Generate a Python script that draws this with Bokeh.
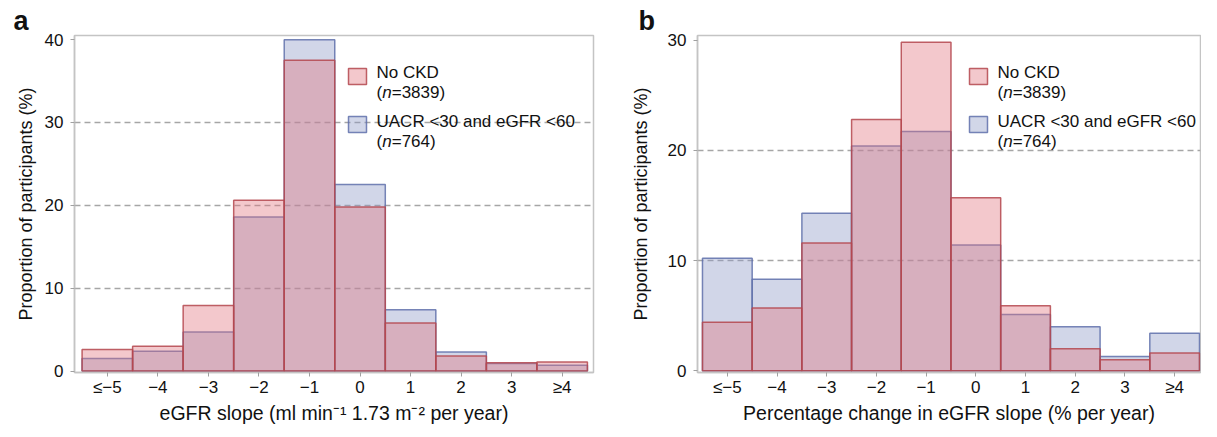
from bokeh.plotting import figure
from bokeh.models import FixedTicker, Label, BoxAnnotation, Range1d, ColumnDataSource
from bokeh.layouts import row
from bokeh.embed import file_html
from bokeh.resources import INLINE

# ---- data ----
categories = ["≤−5", "−4", "−3", "−2", "−1", "0", "1", "2", "3", "≥4"]
a_no_ckd = [2.6, 3.0, 7.9, 20.6, 37.5, 19.8, 5.8, 1.8, 1.0, 1.1]
a_uacr = [1.5, 2.4, 4.7, 18.6, 40.0, 22.5, 7.4, 2.3, 0.9, 0.7]
b_no_ckd = [4.4, 5.7, 11.6, 22.8, 29.8, 15.7, 5.9, 2.0, 1.0, 1.6]
b_uacr = [10.2, 8.3, 14.3, 20.4, 21.7, 11.4, 5.1, 4.0, 1.3, 3.4]
a_yticks = [0, 10, 20, 30, 40]
b_yticks = [0, 10, 20, 30]
a_grid = [10, 20, 30]
b_grid = [10, 20]
legend_names = ["No CKD", "UACR <30 and eGFR <60"]
legend_n = ["=3839)", "=764)"]

FONT = "Liberation Sans"
RED = "#e17680"
RED_EDGE = "#b4464e"
BLUE = "#8c98c5"
BLUE_EDGE = "#5f70aa"
FRAME = "#c4c4c4"
FT = 35          # frame top inside the figure
FH = 337         # frame height
FB = 421 - FT - FH


def sy(page_y):
    return FH - (page_y - FT)


def panel(no_ckd, uacr, yr, yticks, grid, xlabel, letter, xr, fw, mbl, mbr, ystand,
          letter_off, leg_x):
    p = figure(width=mbl + fw + mbr, height=FT + FH + FB, frame_width=fw, frame_height=FH,
               min_border_left=mbl, min_border_right=mbr, min_border_top=FT, min_border_bottom=FB,
               x_range=Range1d(*xr), y_range=Range1d(*yr), title=letter,
               output_backend="svg", toolbar_location=None, tools="")
    p.title.align = "left"
    p.title.offset = letter_off
    p.title.standoff = 0
    p.title.text_font = FONT
    p.title.text_font_size = "27px"
    p.title.text_font_style = "bold"
    p.title.text_color = "#111111"

    src = ColumnDataSource(dict(x=list(range(len(categories))), red=no_ckd, blue=uacr))
    p.vbar(x="x", top="blue", bottom=0, width=1, source=src, fill_color=BLUE, fill_alpha=0.4,
           line_color=BLUE_EDGE, line_width=1.5, line_alpha=0.85)
    p.vbar(x="x", top="red", bottom=0, width=1, source=src, fill_color=RED, fill_alpha=0.4,
           line_color=RED_EDGE, line_width=1.5, line_alpha=0.85)

    p.outline_line_color = FRAME
    p.outline_line_width = 1.5
    p.background_fill_color = "white"
    p.border_fill_color = "white"
    p.xgrid.visible = False
    p.ygrid.ticker = FixedTicker(ticks=grid)
    p.ygrid.grid_line_color = "#a6a6a6"
    p.ygrid.grid_line_dash = "6 4"
    p.ygrid.grid_line_width = 1.5

    p.xaxis.ticker = FixedTicker(ticks=list(range(len(categories))))
    p.xaxis.major_label_overrides = {i: c for i, c in enumerate(categories)}
    p.yaxis.ticker = FixedTicker(ticks=yticks)
    for ax in (p.xaxis, p.yaxis):
        ax.axis_line_color = FRAME
        ax.axis_line_width = 1.5
        ax.major_tick_line_color = "#a0a0a0"
        ax.major_tick_in = 0
        ax.major_tick_out = 4
        ax.minor_tick_line_color = None
        ax.major_label_text_font = FONT
        ax.major_label_text_font_size = "17px"
        ax.major_label_text_color = "#111111"
        ax.axis_label_text_font = FONT
        ax.axis_label_text_font_style = "normal"
        ax.axis_label_text_color = "#111111"
    p.xaxis.axis_label_text_font_size = "19.5px"
    p.yaxis.axis_label_text_font_size = "18px"
    p.xaxis.major_label_standoff = 1
    p.yaxis.major_label_standoff = 7
    p.xaxis.axis_label = xlabel
    p.yaxis.axis_label = "Proportion of participants (%)"
    p.xaxis.axis_label_standoff = 2
    p.yaxis.axis_label_standoff = ystand

    entries = [(68, RED, RED_EDGE, 71.5, 92.0), (116, BLUE, BLUE_EDGE, 120.5, 141.0)]
    for (top_y, fill, edge, b1, b2), name, n in zip(entries, legend_names, legend_n):
        p.add_layout(BoxAnnotation(left=leg_x, right=leg_x + 18, top=sy(top_y), bottom=sy(top_y + 16),
                                   left_units="screen", right_units="screen",
                                   top_units="screen", bottom_units="screen",
                                   fill_color=fill, fill_alpha=0.4, line_color=edge,
                                   line_width=1.5, line_alpha=0.85))
        tx = leg_x + 28
        common = dict(x_units="screen", y_units="screen", text_font=FONT,
                      text_font_size="17px", text_baseline="alphabetic", text_color="#111111")
        p.add_layout(Label(x=tx, y=sy(b1), text=name, **common))
        p.add_layout(Label(x=tx, y=sy(b2), text="(", **common))
        p.add_layout(Label(x=tx + 5.7, y=sy(b2), text="n", text_font_style="italic", **common))
        p.add_layout(Label(x=tx + 15.2, y=sy(b2), text=n, **common))
    return p


p1 = panel(a_no_ckd, a_uacr, (-0.18, 40.5), a_yticks, a_grid,
           "eGFR slope (ml min⁻¹ 1.73 m⁻² per year)", "a",
           (-0.65, 9.62), 519, 74, 20, 6, -61, 274)
p2 = panel(b_no_ckd, b_uacr, (-0.16, 30.42), b_yticks, b_grid,
           "Percentage change in eGFR slope (% per year)", "b",
           (-0.6, 9.52), 503, 84, 1, 14, -59, 272)

layout = row(p1, p2)
open("out.html", "w").write(file_html(layout, INLINE, "eGFR histograms"))
